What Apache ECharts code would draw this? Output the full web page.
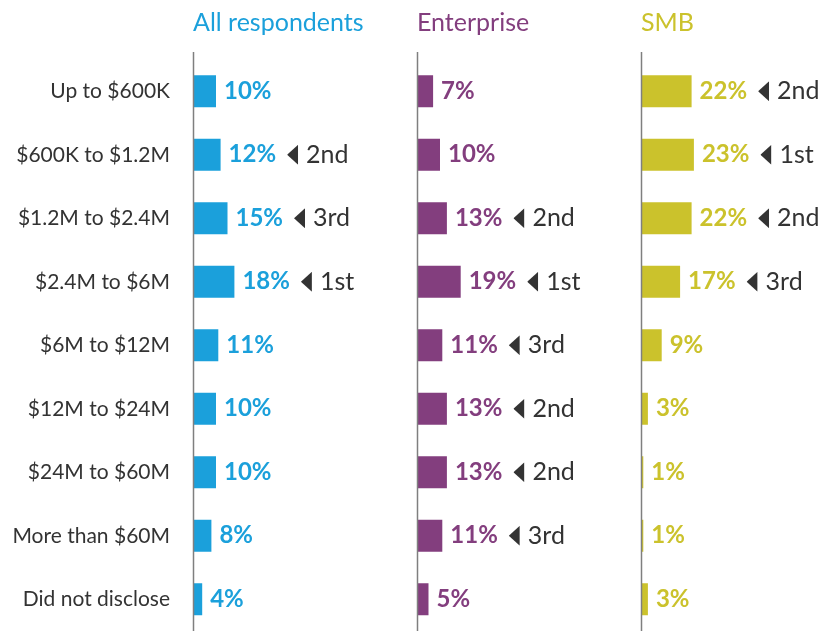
<!DOCTYPE html>
<html>
<head>
<meta charset="utf-8">
<script src="https://cdn.jsdelivr.net/npm/echarts@6/dist/echarts.min.js"></script>
<style>
  html, body { margin: 0; padding: 0; background: #fff; }
  #chart { width: 821px; height: 631px; }
</style>
</head>
<body>
<div id="chart"></div>
<script>
// revenue bands
const categories = ['Up to $600K', '$600K to $1.2M', '$1.2M to $2.4M', '$2.4M to $6M', '$6M to $12M',
  '$12M to $24M', '$24M to $60M', 'More than $60M', 'Did not disclose']
const panelNames = ['All respondents', 'Enterprise', 'SMB']

const allValues = [10, 12, 15, 18, 11, 10, 10, 8, 4]
const enterpriseValues = [7, 10, 13, 19, 11, 13, 13, 11, 5]
const smbValues = [22, 23, 22, 17, 9, 3, 1, 1, 3]

const allRanks = ['', '2nd', '3rd', '1st', '', '', '', '', '']
const enterpriseRanks = ['', '', '2nd', '1st', '3rd', '2nd', '2nd', '3rd', '']
const smbRanks = ['2nd', '1st', '2nd', '3rd', '', '', '', '', '']

const colors = ['#1ba0db', '#833e7e', '#cbc22c']
const font = 'Lato, "Noto Sans", sans-serif'

const panels = [
  { values: allValues, ranks: allRanks },
  { values: enterpriseValues, ranks: enterpriseRanks },
  { values: smbValues, ranks: smbRanks }
]

const lefts = [193, 417, 641]
const gridTop = 59.5

// tall narrow pointer triangle used before the rank text
const triangle = 'data:image/svg+xml;utf8,' + encodeURIComponent(
  '<svg xmlns="http://www.w3.org/2000/svg" width="11" height="20"><polygon points="11,0 11,20 0,10" fill="#333"/></svg>')

const chart = echarts.init(document.getElementById('chart'))

const option = {
  animation: false,
  textStyle: { fontFamily: font },
  title: panelNames.map((name, i) => ({
    text: name,
    left: lefts[i],
    top: 10,
    padding: 0,
    textStyle: { color: colors[i], fontSize: 25, fontWeight: 'normal', fontFamily: font }
  })),
  grid: lefts.map(l => ({ left: l, top: gridTop, width: 161, bottom: 0 })),
  xAxis: lefts.map((l, i) => ({
    type: 'value', gridIndex: i, min: 0, max: 70, show: false
  })),
  yAxis: lefts.map((l, i) => ({
    type: 'category',
    gridIndex: i,
    data: categories,
    inverse: true,
    axisLine: { show: false },
    axisTick: { show: false },
    axisLabel: {
      show: i === 0,
      color: '#333',
      fontSize: 21,
      fontFamily: font,
      margin: 23
    }
  })),
  // vertical separators running up past the grid top
  graphic: lefts.map(l => ({
    type: 'line',
    shape: { x1: l + 0.5, y1: 52, x2: l + 0.5, y2: 631 },
    style: { stroke: '#7f7f7f', lineWidth: 1.5 },
    z: 10
  })),
  series: panels.map((p, i) => ({
    type: 'bar',
    xAxisIndex: i,
    yAxisIndex: i,
    barWidth: 32,
    data: p.values,
    itemStyle: { color: colors[i] },
    label: {
      show: true,
      position: 'right',
      distance: 8,
      formatter: params => {
        const r = p.ranks[params.dataIndex]
        return '{v|' + params.value + '%}' + (r ? '{t|}{r|' + r + '}' : '')
      },
      rich: {
        v: { color: colors[i], fontSize: 24, fontWeight: 'bold', fontFamily: font, padding: [0, 11, 0, 0] },
        t: { width: 11, height: 20, backgroundColor: { image: triangle }, align: 'left' },
        r: { color: '#333', fontSize: 25, fontFamily: font, padding: [0, 0, 0, 8] }
      }
    }
  }))
}

chart.setOption(option)
</script>
</body>
</html>
